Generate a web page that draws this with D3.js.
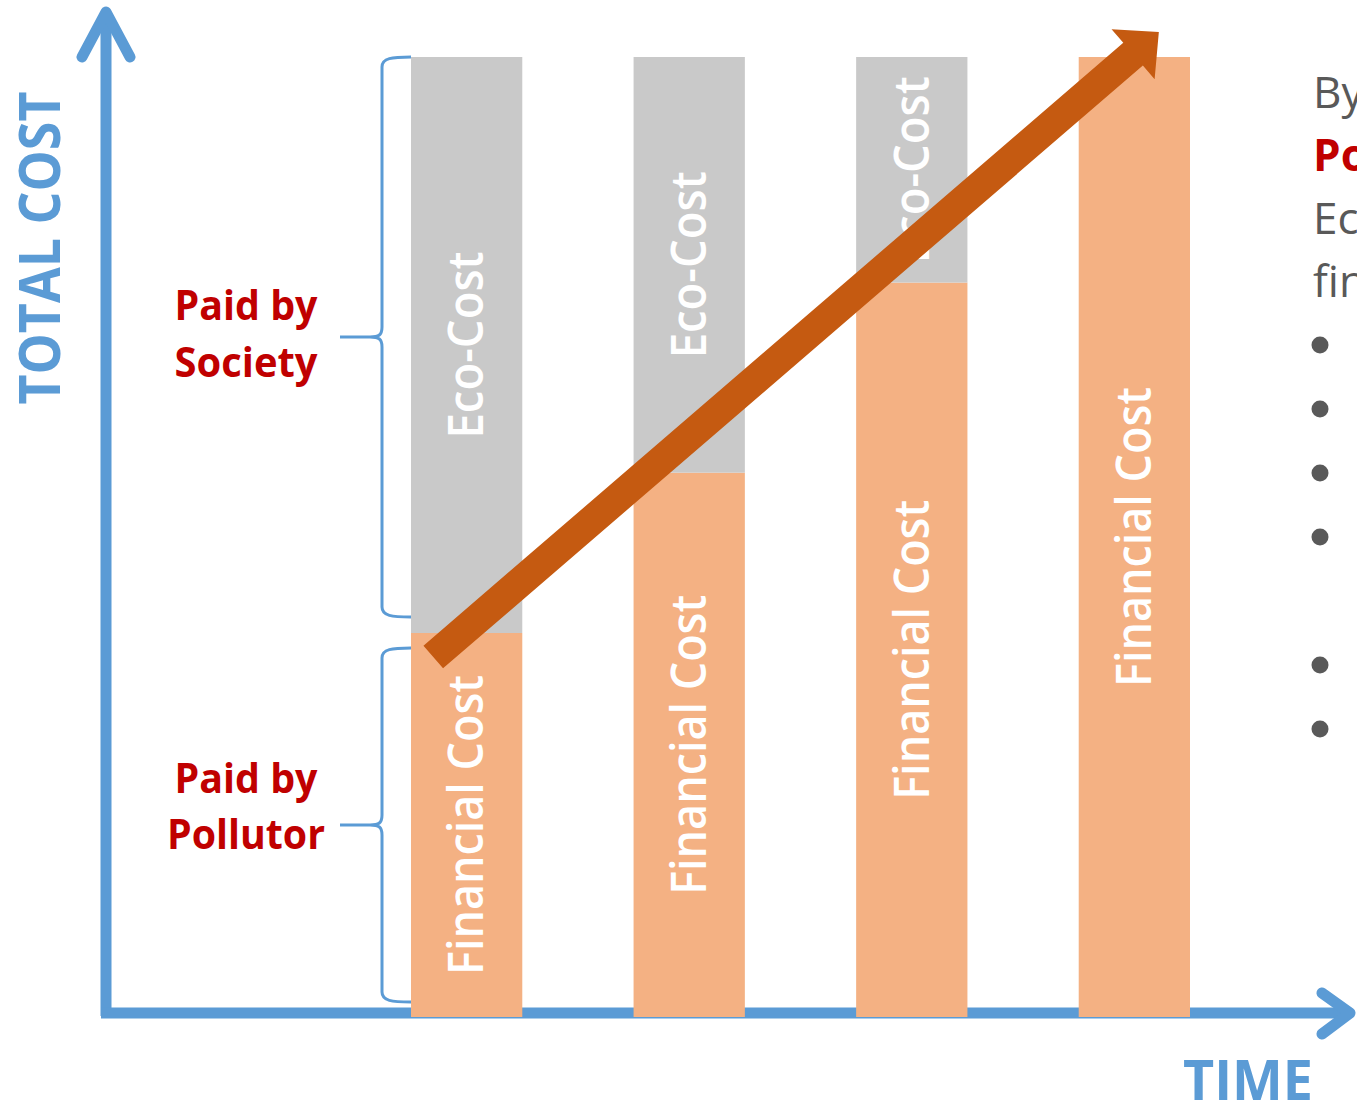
<!DOCTYPE html>
<html>
<head>
<meta charset="utf-8">
<script src="https://cdn.jsdelivr.net/npm/d3@7"></script>
<style>
  html, body { margin: 0; padding: 0; background: #fff; }
  svg { display: block; }
</style>
</head>
<body>
<svg></svg>
<script>
const WIDTH = 1357;
const HEIGHT = 1104;

// periods along the time axis, and the two cost shares (percent of total)
const PERIODS = ['T1', 'T2', 'T3', 'T4'];
const FINANCIAL = [40, 56.7, 76.5, 100];
const ECO = [60, 43.3, 23.5, 0];
const SEGMENT_LABELS = ['Financial Cost', 'Eco-Cost'];

// trend arrow: [period position, cost]
const TREND_FROM = [-0.15, 37.5];
const TREND_TO = [3.11, 102.6];

const SIDE_TEXT = ['By applying the', 'Polluter Pays', 'Eco-costs become', 'financial costs:'];
const BULLET_ROWS = [0, 1, 2, 3, 5, 6];

const BLUE = '#5b9bd5';
const GRAY = '#c9c9c9';
const PEACH = '#f4b183';
const RUST = '#c55a11';
const RED = '#c00000';
const DARK = '#595959';
const FONT = "'Open Sans', 'DejaVu Sans', sans-serif";

const svg = d3.select('svg')
              .attr('width', WIDTH)
              .attr('height', HEIGHT)
              .style('font-family', FONT);

const x = d3.scaleBand()
            .domain(PERIODS)
            .range([411, 1190])
            .paddingInner(0.5)
            .paddingOuter(0);

const y = d3.scaleLinear()
            .domain([0, 100])
            .range([1017, 57]);

const xt = p => x(PERIODS[0]) + x.bandwidth() / 2 + p * x.step();

const bars = PERIODS.map((p, i) => ({
  period: p,
  financial: FINANCIAL[i],
  eco: ECO[i]
}));

drawAxes();
drawBars();
drawBraces();
drawTrend();
drawSideText();

function drawAxes() {
  const g = svg.append('g')
               .attr('stroke', BLUE)
               .attr('stroke-width', 11)
               .attr('stroke-linecap', 'round')
               .attr('stroke-linejoin', 'round')
               .attr('fill', 'none');

  // y axis
  g.append('line').attr('x1', 106).attr('x2', 106).attr('y1', 1016).attr('y2', 12)
   .attr('stroke-linecap', 'butt');
  g.append('path').attr('d', 'M82,57 L106,12 L130,57');

  // x axis
  g.append('line').attr('x1', 101).attr('x2', 1348).attr('y1', 1013).attr('y2', 1013)
   .attr('stroke-linecap', 'butt');
  g.append('path').attr('d', 'M1322,993 L1350,1013 L1322,1034');

  svg.append('text')
     .attr('transform', 'translate(60,248) rotate(-90)')
     .attr('text-anchor', 'middle')
     .attr('font-size', 58)
     .attr('font-weight', 700)
     .attr('fill', BLUE)
     .attr('textLength', 313)
     .attr('lengthAdjust', 'spacingAndGlyphs')
     .text('TOTAL COST');

  svg.append('text')
     .attr('x', 1248)
     .attr('y', 1100)
     .attr('text-anchor', 'middle')
     .attr('font-size', 56)
     .attr('font-weight', 700)
     .attr('fill', BLUE)
     .attr('textLength', 130)
     .attr('lengthAdjust', 'spacingAndGlyphs')
     .text('TIME');
}

function drawBars() {
  const g = svg.append('g');
  const bar = g.selectAll('g.bar').data(bars).enter().append('g').attr('class', 'bar');

  bar.append('rect')
     .attr('x', d => x(d.period))
     .attr('width', x.bandwidth())
     .attr('y', d => y(d.financial))
     .attr('height', d => y(0) - y(d.financial))
     .attr('fill', PEACH);

  bar.filter(d => d.eco > 0).append('rect')
     .attr('x', d => x(d.period))
     .attr('width', x.bandwidth())
     .attr('y', d => y(d.financial + d.eco))
     .attr('height', d => y(d.financial) - y(d.financial + d.eco))
     .attr('fill', GRAY);

  const label = (sel, text, len, mid) => sel.append('text')
     .attr('transform', d => `translate(${x(d.period) + x.bandwidth() / 2},${mid(d)}) rotate(-90)`)
     .attr('dy', '0.35em')
     .attr('text-anchor', 'middle')
     .attr('font-size', 48)
     .attr('font-weight', 600)
     .attr('fill', '#fff')
     .attr('textLength', len)
     .attr('lengthAdjust', 'spacingAndGlyphs')
     .text(text);

  label(bar, SEGMENT_LABELS[0], 300, d => (y(0) + y(d.financial)) / 2);
  label(bar.filter(d => d.eco > 0), SEGMENT_LABELS[1], 187,
        d => (y(d.financial) + y(d.financial + d.eco)) / 2);
}

function bracePath(top, bottom) {
  const mid = (top + bottom) / 2;
  const edge = x(PERIODS[0]);
  const spine = 382;
  const tip = 340;
  return `M${edge},${top} C${spine + 10},${top} ${spine},${top + 1} ${spine},${top + 10}` +
         ` L${spine},${mid - 10} C${spine},${mid - 2} ${spine - 3},${mid} ${spine - 12},${mid}` +
         ` L${tip},${mid}` +
         ` M${spine - 12},${mid} C${spine - 3},${mid} ${spine},${mid + 2} ${spine},${mid + 10}` +
         ` L${spine},${bottom - 10} C${spine},${bottom - 1} ${spine + 10},${bottom} ${edge},${bottom}`;
}

function drawBraces() {
  const split = y(FINANCIAL[0]);
  const braces = [
    {top: y(100), bottom: split - 16, lines: ['Paid by', 'Society'], len: [143, 143], dy: [-17, 40]},
    {top: split + 15, bottom: y(0) - 15, lines: ['Paid by', 'Pollutor'], len: [143, 158], dy: [-32, 24]}
  ];

  svg.append('g').selectAll('path').data(braces).enter().append('path')
     .attr('d', d => bracePath(d.top, d.bottom))
     .attr('fill', 'none')
     .attr('stroke', BLUE)
     .attr('stroke-width', 3);

  braces.forEach(b => {
    const mid = (b.top + b.bottom) / 2;
    b.lines.forEach((t, i) => {
      svg.append('text')
         .attr('x', 246)
         .attr('y', mid + b.dy[i])
         .attr('text-anchor', 'middle')
         .attr('font-size', 42)
         .attr('font-weight', 700)
         .attr('fill', RED)
         .attr('textLength', b.len[i])
         .attr('lengthAdjust', 'spacingAndGlyphs')
         .text(t);
    });
  });
}

function drawTrend() {
  const x0 = xt(TREND_FROM[0]), y0 = y(TREND_FROM[1]);
  const x1 = xt(TREND_TO[0]), y1 = y(TREND_TO[1]);
  const len = Math.hypot(x1 - x0, y1 - y0);
  const angle = Math.atan2(y1 - y0, x1 - x0) * 180 / Math.PI;
  const shaft = 15, headW = 33, headL = 34;

  const pts = [
    [0, -shaft], [len - headL, -shaft], [len - headL, -headW], [len, 0],
    [len - headL, headW], [len - headL, shaft], [0, shaft]
  ];

  svg.append('path')
     .attr('transform', `translate(${x0},${y0}) rotate(${angle})`)
     .attr('d', d3.line()(pts) + 'Z')
     .attr('fill', RUST);
}

function drawSideText() {
  const g = svg.append('g');
  g.selectAll('text').data(SIDE_TEXT).enter().append('text')
   .attr('x', 1313)
   .attr('y', (d, i) => 108 + i * 63)
   .attr('font-size', 44)
   .attr('font-weight', (d, i) => i === 1 ? 700 : 400)
   .attr('fill', (d, i) => i === 1 ? RED : DARK)
   .text(d => d);

  g.selectAll('circle').data(BULLET_ROWS).enter().append('circle')
   .attr('cx', 1320)
   .attr('cy', d => 345 + d * 64)
   .attr('r', 8.5)
   .attr('fill', DARK);
}
</script>
</body>
</html>
